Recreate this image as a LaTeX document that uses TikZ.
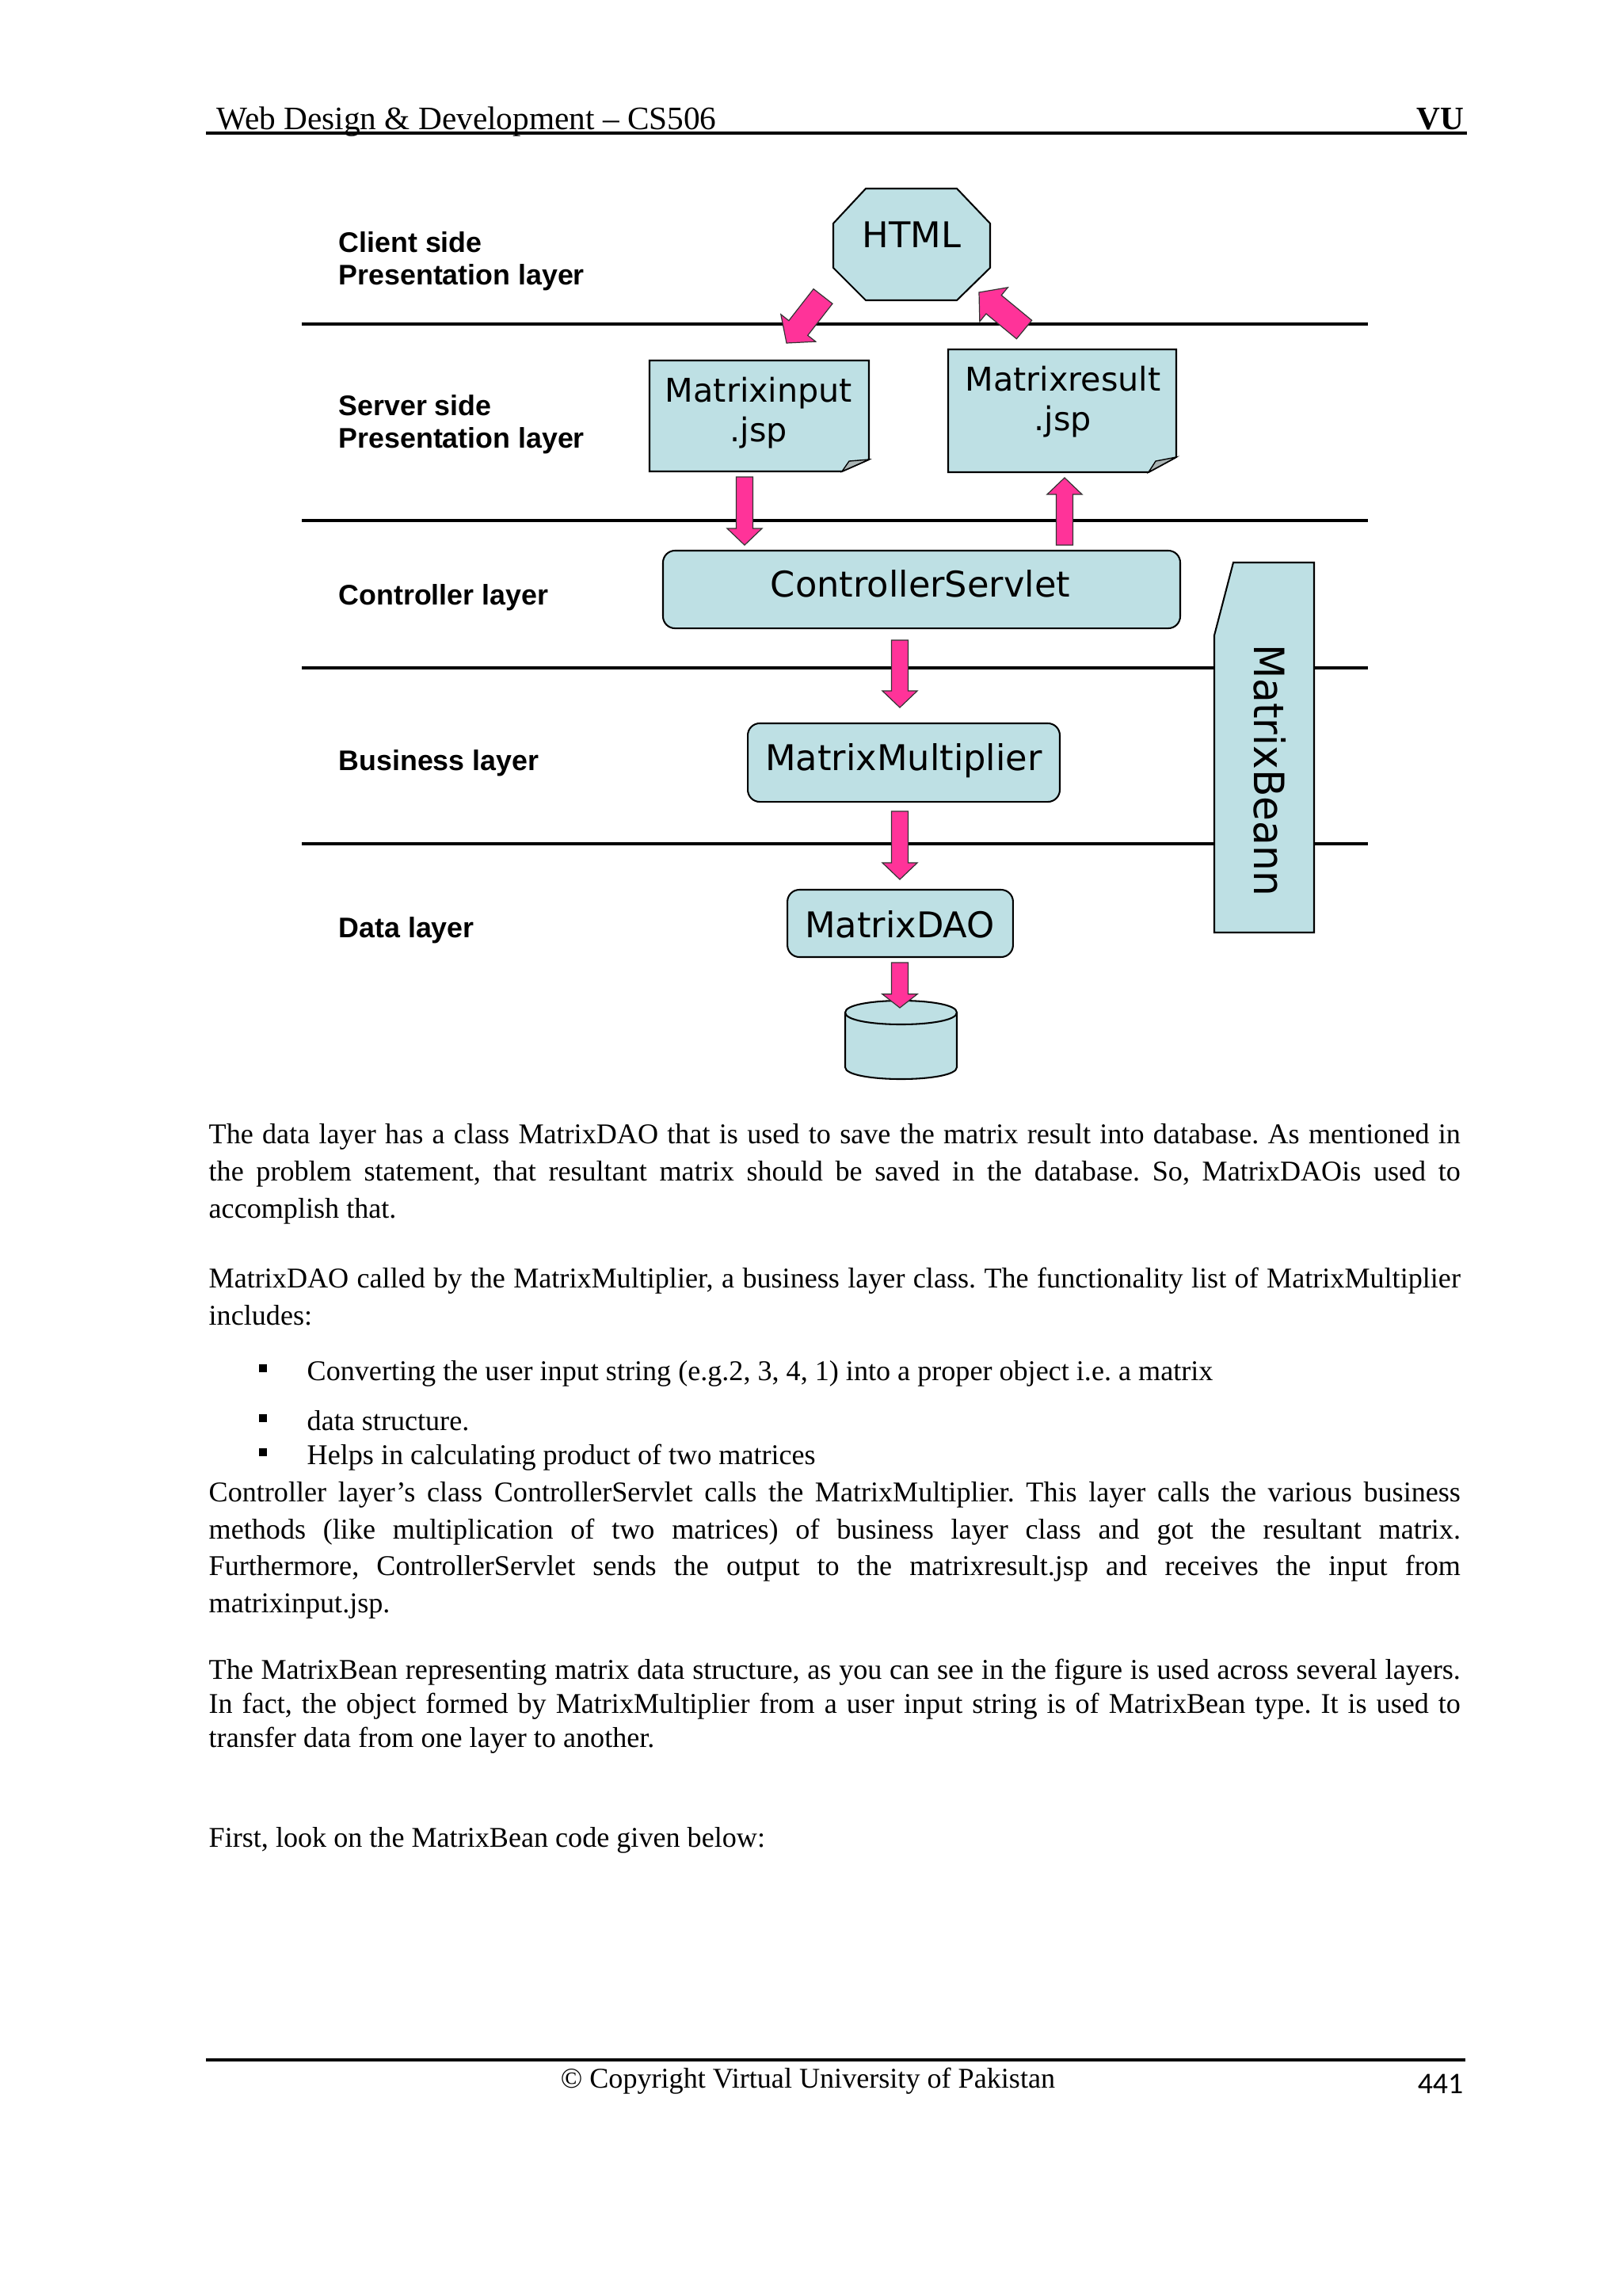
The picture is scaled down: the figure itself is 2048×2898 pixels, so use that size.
\documentclass[tikz,border=0pt]{standalone}
\usepackage{fontspec}
\setmainfont{Liberation Serif}
\newfontfamily\dvs{DejaVu Sans}
\newfontfamily\lsans{Liberation Sans}
\newfontfamily\carl{Carlito}
\usetikzlibrary{calc}
\definecolor{boxblue}{RGB}{190,224,228}
\definecolor{hotpink}{RGB}{255,51,153}
\definecolor{foldgray}{RGB}{170,180,180}
\newcommand\blockarr[5]{%
  \coordinate (hb) at ($(#2)!#5!(#1)$);
  \draw[arr] ($(#1)!#3!90:(#2)$) -- ($(hb)!#3!-90:(#1)$) -- ($(hb)!#4!-90:(#1)$) -- (#2)
     -- ($(hb)!#4!90:(#1)$) -- ($(hb)!#3!90:(#1)$) -- ($(#1)!#3!-90:(#2)$) -- cycle;}
\newcommand\jl[1]{\makebox[459.3pt][s]{#1}}
\frenchspacing
\begin{document}
\begin{tikzpicture}[x=0.29067pt, y=-0.29067pt,
  layerline/.style={line width=1.1pt},
  box/.style={draw=black, line width=0.6pt, fill=boxblue},
  arr/.style={fill=hotpink, draw=black!80, line width=0.35pt},
  lay/.style={font=\lsans\bfseries\fontsize{10.4}{12}\selectfont, anchor=base west, inner sep=0},
  btx/.style={font=\dvs\fontsize{13}{15}\selectfont, anchor=base, inner sep=0},
  jtx/.style={font=\dvs\fontsize{12}{14}\selectfont, anchor=base, inner sep=0},
  body/.style={font=\frenchspacing\fontsize{10.5}{13}\selectfont, anchor=base west, inner sep=0},
  bul/.style={fill=black, minimum size=2.9pt, inner sep=0}]
\useasboundingbox (0,0) rectangle (2048,2898);
\fill[white] (0,0) rectangle (2048,2898);

% header
\node[anchor=base west, inner sep=0, font=\fontsize{12}{14}\selectfont] (hdr) at (273,163) {Web Design \& Development – CS506};
\node[anchor=base east, inner sep=0, font=\bfseries\fontsize{12}{14}\selectfont] (vu) at (1849,163) {VU};
\draw[line width=0.9pt] (260,168) -- (1852,168);

% layer lines
\foreach \yy in {409,657,843,1065} \draw[layerline] (381,\yy) -- (1727,\yy);

% layer labels
\node[lay] (l1a) at (427,318) {Client side};
\node[lay] (l1b) at (427,359) {Presentation layer};
\node[lay] (l2a) at (427,524) {Server side};
\node[lay] (l2b) at (427,565) {Presentation layer};
\node[lay] (l3) at (427,763) {Controller layer};
\node[lay] (l4) at (427,972) {Business layer};
\node[lay] (l5) at (427,1183) {Data layer};

% HTML octagon
\draw[box] (1093,238) -- (1208,238) -- (1250,282) -- (1250,338) -- (1208,379) -- (1093,379) -- (1052,338) -- (1052,282) -- cycle;
\node[btx] (html) at (1151,312) {HTML};

% jsp documents
\draw[box] (820,455) -- (1097,455) -- (1097,580) -- (1063,595) -- (820,595) -- cycle;
\filldraw[fill=foldgray, draw=black, line width=0.4pt] (1063,595) -- (1072,582) -- (1097,580) -- cycle;
\node[jtx] (mi1) at (958,507) {Matrixinput};
\node[jtx] (mi2) at (958,557) {.jsp};
\draw[box] (1197,441) -- (1485,441) -- (1485,577) -- (1450,596) -- (1197,596) -- cycle;
\filldraw[fill=foldgray, draw=black, line width=0.4pt] (1450,596) -- (1459,582) -- (1485,577) -- cycle;
\node[jtx] (mr1) at (1342,493) {Matrixresult};
\node[jtx] (mr2) at (1342,543) {.jsp};

% boxes
\node[box, rounded corners=4.4pt, minimum width=189.8pt, minimum height=28.5pt] (cs) at (1163.5,744) {};
\node[btx] (cst) at (1162,753) {ControllerServlet};
\node[box, rounded corners=4.4pt, minimum width=114.5pt, minimum height=28.8pt] (mm) at (1141,962.5) {};
\node[btx] (mmt) at (1141,972) {MatrixMultiplier};
\node[box, rounded corners=4.4pt, minimum width=82.8pt, minimum height=24.7pt] (dao) at (1136.5,1165.5) {};
\node[btx] (daot) at (1136,1183) {MatrixDAO};

% MatrixBean
\draw[box] (1557,710) -- (1659,710) -- (1659,1177) -- (1533,1177) -- (1533,802) -- cycle;
\node[btx, font=\dvs\fontsize{14.6}{16}\selectfont, anchor=center, rotate=-90] (bean) at (1603,972) {\scalebox{1}[1.05]{MatrixBeann}};

% database cylinder
\draw[box] (1067,1278) -- (1067,1347) .. controls (1067,1367) and (1208,1367) .. (1208,1347)
  -- (1208,1278) .. controls (1208,1258) and (1067,1258) .. (1067,1278) -- cycle;
\draw[line width=0.6pt] (1067,1278) .. controls (1067,1298) and (1208,1298) .. (1208,1278);

% arrows
\coordinate (d1s) at (1039,374); \coordinate (d1e) at (993,433);
\coordinate (d2s) at (1293,416); \coordinate (d2e) at (1236,369);
\coordinate (a1s) at (940,602);  \coordinate (a1e) at (940,688);
\coordinate (a2s) at (1344,688); \coordinate (a2e) at (1344,603);
\coordinate (a3s) at (1136,808); \coordinate (a3e) at (1136,893);
\coordinate (a4s) at (1136,1024); \coordinate (a4e) at (1136,1110);
\coordinate (a5s) at (1136,1215); \coordinate (a5e) at (1136,1272);
\blockarr{d1s}{d1e}{4.4pt}{8.1pt}{7pt}
\blockarr{d2s}{d2e}{4.4pt}{8.1pt}{7pt}
\blockarr{a1s}{a1e}{3.05pt}{6.4pt}{6.1pt}
\blockarr{a2s}{a2e}{3.05pt}{6.4pt}{6.1pt}
\blockarr{a3s}{a3e}{3.05pt}{6.4pt}{6.1pt}
\blockarr{a4s}{a4e}{3.05pt}{6.4pt}{6.1pt}
\blockarr{a5s}{a5e}{3.05pt}{6.4pt}{5pt}

% body text
\node[body] (p1a) at (263,1443) {\jl{The data layer has a class MatrixDAO that is used to save the matrix result into database. As mentioned in}};
\node[body] (p1b) at (263,1490) {\jl{the problem statement, that resultant matrix should be saved in the database. So, MatrixDAOis used to}};
\node[body] (p1c) at (263,1537) {accomplish that.};
\node[body] (p2a) at (263,1625) {\jl{MatrixDAO called by the MatrixMultiplier, a business layer class. The functionality list of MatrixMultiplier}};
\node[body] (p2b) at (263,1672) {includes:};
\node[bul] (b1) at (332,1727) {};
\node[bul] (b2) at (332,1790) {};
\node[bul] (b3) at (332,1833) {};
\node[body] (i1) at (387,1742) {Converting the user input string (e.g.2, 3, 4, 1) into a proper object i.e. a matrix};
\node[body] (i2) at (387,1805) {data structure.};
\node[body] (i3) at (387,1848) {Helps in calculating product of two matrices};
\node[body] (p3a) at (263,1895) {\jl{Controller layer’s class ControllerServlet calls the MatrixMultiplier. This layer calls the various business}};
\node[body] (p3b) at (263,1942) {\jl{methods (like multiplication of two matrices) of business layer class and got the resultant matrix.}};
\node[body] (p3c) at (263,1988) {\jl{Furthermore, ControllerServlet sends the output to the matrixresult.jsp and receives the input from}};
\node[body] (p3d) at (263,2035) {matrixinput.jsp.};
\node[body] (p4a) at (263,2119) {\jl{The MatrixBean representing matrix data structure, as you can see in the figure is used across several layers.}};
\node[body] (p4b) at (263,2162) {\jl{In fact, the object formed by MatrixMultiplier from a user input string is of MatrixBean type. It is used to}};
\node[body] (p4c) at (263,2205) {transfer data from one layer to another.};
\node[body] (p5) at (263,2331) {First, look on the MatrixBean code given below:};

% footer
\draw[line width=0.9pt] (260,2600) -- (1850,2600);
\node[anchor=base, inner sep=0, font=\fontsize{10.5}{12}\selectfont] (copy) at (1020,2635) {© Copyright Virtual University of Pakistan};
\node[anchor=base east, inner sep=0, font=\carl\fontsize{11}{13}\selectfont] (pg) at (1848,2642) {441};
\end{tikzpicture}
\end{document}
